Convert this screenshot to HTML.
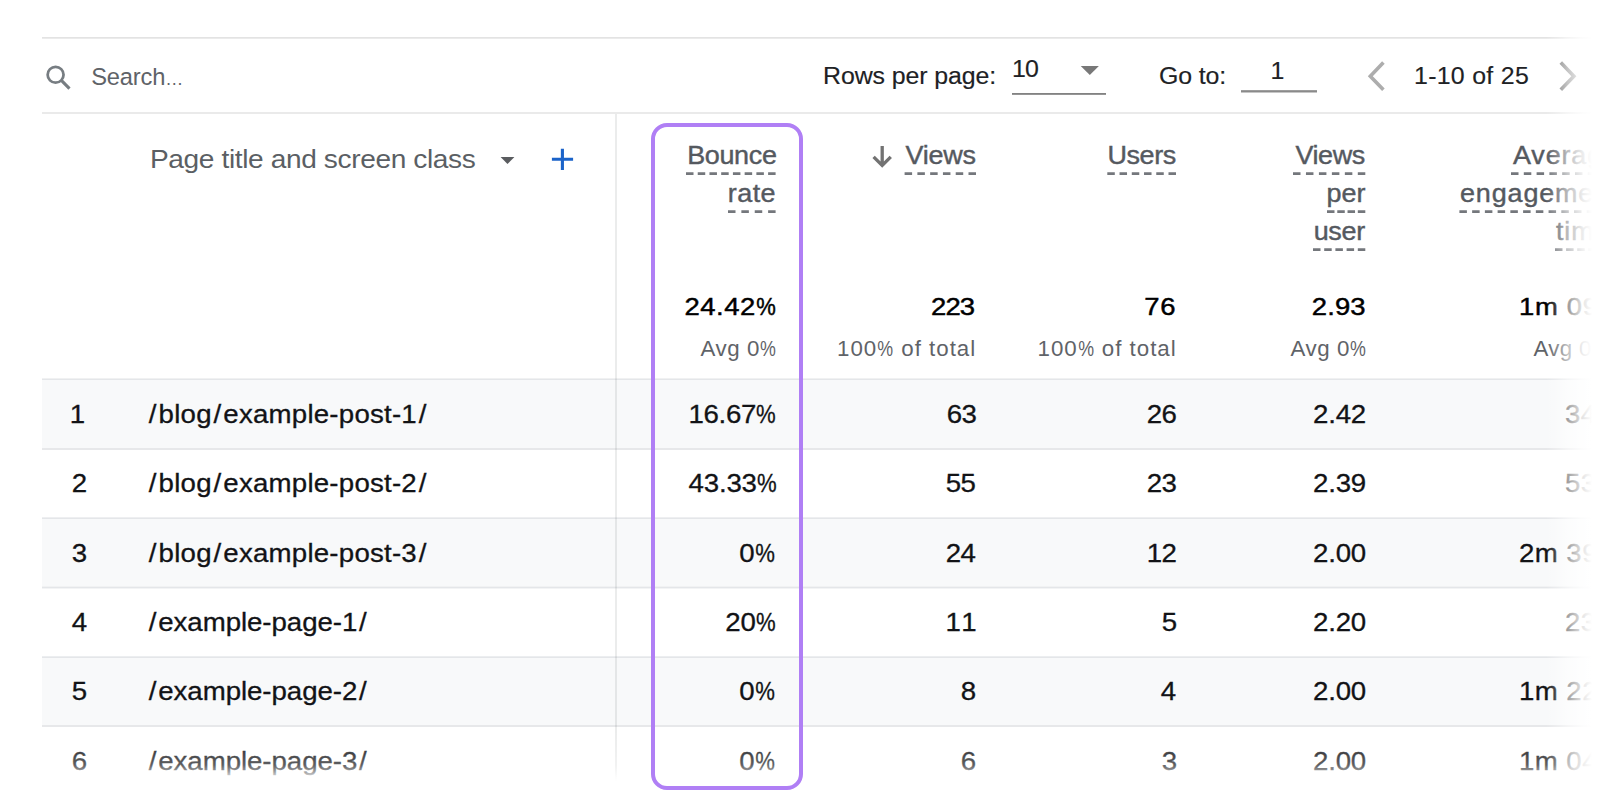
<!DOCTYPE html>
<html lang="en">
<head>
<meta charset="utf-8">
<title>Pages and screens</title>
<style>
html,body{margin:0;padding:0;background:#fff;}
body{width:1600px;height:799px;position:relative;overflow:hidden;font-family:"Liberation Sans",Arial,sans-serif;color:#202124;}
.abs{position:absolute;}
.hl{position:absolute;left:42px;right:0;height:2px;background:#e7e8ea;}
.row{position:absolute;left:42px;right:0;background:#f8f9fa;}
.t{position:absolute;white-space:nowrap;line-height:1;}
.b{font-size:25.6px;color:#121316;-webkit-text-stroke:0.3px #121316;}
.tb{font-size:23.5px;color:#202124;-webkit-text-stroke:0.15px #202124;}
.g{font-size:23.7px;color:#5f6368;}
.dh{font-size:26px;color:#5b5f64;}
.h{font-size:25.2px;color:#55595f;-webkit-text-stroke:0.4px #55595f;}
.tt{font-size:24.3px;color:#000;-webkit-text-stroke:0.45px #000;}
.s{font-size:22.3px;color:#5f6368;}
.sl{margin:0 1.7px}
.el{font-size:18px}
.pc{display:inline-block;transform:scaleX(.8);transform-origin:right center;margin-left:-.18em}
</style>
</head>
<body>
<!-- horizontal rules -->
<div class="hl" style="top:37px;background:linear-gradient(180deg,#e3e3e3 0,#e3e3e3 50%,#ebebeb 50%)"></div>
<div class="hl" style="top:112px;background:#eaeaea"></div>

<!-- striped rows -->
<div class="row" style="top:380px;height:68px"></div>
<div class="row" style="top:519px;height:68px"></div>
<div class="row" style="top:658px;height:68px"></div>
<div class="hl" style="top:378px;background:linear-gradient(180deg,#f0f1f2 0,#f0f1f2 50%,#e4e6e9 50%)"></div>
<div class="hl" style="top:448px"></div>
<div class="hl" style="top:517px;background:linear-gradient(180deg,#eeeff1 0,#eeeff1 50%,#e4e6e9 50%)"></div>
<div class="hl" style="top:586px;height:3px;background:linear-gradient(180deg,#f1f2f3 0,#f1f2f3 33%,#e4e6e9 33%,#e4e6e9 67%,#f3f4f5 67%)"></div>
<div class="hl" style="top:656px;background:linear-gradient(180deg,#eceef0 0,#eceef0 50%,#e4e6e9 50%)"></div>
<div class="hl" style="top:725px"></div>
<!-- vertical separator -->
<div class="abs" style="left:615px;top:114px;width:2px;height:685px;background:rgba(60,64,67,0.1)"></div>

<!-- search icon -->
<svg class="abs" style="left:44px;top:64px" width="30" height="30" viewBox="0 0 30 30"><circle cx="11.6" cy="10.75" r="7.95" fill="none" stroke="#777d82" stroke-width="2.75"/><path d="M17.1 16.2 L25.5 24.6" stroke="#777d82" stroke-width="3.1"/></svg>

<!-- pagination controls -->
<div class="abs" style="left:1012px;top:93px;width:94px;height:2px;background:linear-gradient(180deg,#828282 0,#828282 50%,#959595 50%)"></div>
<svg class="abs" style="left:1080px;top:66px" width="20" height="10" viewBox="0 0 20 10"><path d="M0.75 0 L18.9 0 L9.8 8.9 Z" fill="#787878"/></svg>
<div class="abs" style="left:1241px;top:90px;width:76px;height:3px;background:linear-gradient(180deg,#9d9d9d 0,#9d9d9d 33%,#8a8a8a 33%,#8a8a8a 67%,#c6c6c6 67%)"></div>
<svg class="abs" style="left:1366px;top:58px" width="22" height="36" viewBox="0 0 22 36"><path d="M17.4 4.6 L4.3 18.2 L17.4 31.8" fill="none" stroke="#adadad" stroke-width="3.6"/></svg>
<svg class="abs" style="left:1556px;top:58px" width="22" height="36" viewBox="0 0 22 36"><path d="M4.8 4.6 L17.9 18.2 L4.8 31.8" fill="none" stroke="#707070" stroke-width="3.6"/></svg>

<!-- dimension header icons -->
<svg class="abs" style="left:499px;top:156px" width="17" height="9" viewBox="0 0 17 9"><path d="M1.6 1 L15.4 1 L8.5 8 Z" fill="#5a5c5f"/></svg>
<svg class="abs" style="left:550px;top:147px" width="25" height="25" viewBox="0 0 25 25"><path d="M12.4 1.75 V22.9 M1.9 12.3 H23.1" stroke="#1b63c9" stroke-width="3.1" fill="none"/></svg>
<!-- sort arrow -->
<svg class="abs" style="left:871px;top:145px" width="23" height="25" viewBox="0 0 23 25"><path d="M11.2 1 V20 M2.6 11.9 L11.2 20.5 L19.8 11.9" fill="none" stroke="#727272" stroke-width="3.3" stroke-linejoin="miter"/></svg>

<!-- dashed underlines -->
<svg class="abs" style="left:0;top:0" width="1600" height="260" viewBox="0 0 1600 260"><g fill="none" stroke="#74777c" stroke-width="2.6">
<path d="M686 173.6 H775.6" stroke-dasharray="7.5 4.23"/>
<path d="M728 211.6 H775.6" stroke-dasharray="7.5 5.87"/>
<path d="M904.6 173.6 H976" stroke-dasharray="7.5 5.28"/>
<path d="M1107.3 173.6 H1176" stroke-dasharray="7.5 4.74"/>
<path d="M1293 173.6 H1365.3" stroke-dasharray="7.5 5.46"/>
<path d="M1327 211.6 H1365.3" stroke-dasharray="7.5 2.77"/>
<path d="M1313 249.6 H1365.3" stroke-dasharray="7.5 3.70"/>
<path d="M1511 173.6 H1608.1" stroke-dasharray="7.5 5.3"/>
<path d="M1459.4 211.6 H1607" stroke-dasharray="7.5 5.24"/>
<path d="M1555 249.6 H1607" stroke-dasharray="7.5 3.62"/>
</g></svg>

<div id="search" class="t g" style="left:91.20px;top:65.64px;letter-spacing:-0.17px;transform:scaleX(1.0);transform-origin:left center">Search<span class="el">…</span></div>
<div id="rpp" class="t tb" style="left:822.50px;top:64.71px;letter-spacing:-0.09px;transform:scaleX(1.06);transform-origin:left center">Rows per page:</div>
<div id="ten" class="t tb" style="left:1011.50px;top:58.11px;letter-spacing:-0.89px;transform:scaleX(1.06);transform-origin:left center">10</div>
<div id="goto" class="t tb" style="left:1159.00px;top:64.61px;letter-spacing:-0.13px;transform:scaleX(1.06);transform-origin:left center">Go to:</div>
<div id="one" class="t tb" style="left:1257.80px;width:40px;text-align:center;top:59.81px;letter-spacing:1.00px;transform:scaleX(1.06);transform-origin:center center">1</div>
<div id="range" class="t tb" style="left:1414.00px;top:64.71px;letter-spacing:0.27px;transform:scaleX(1.06);transform-origin:left center">1-10 of 25</div>
<div id="dim" class="t dh" style="left:149.50px;top:146.49px;letter-spacing:-0.35px;transform:scaleX(1.08);transform-origin:left center">Page title and screen class</div>
<div id="h_b1" class="t h" style="right:823.70px;top:143.07px;letter-spacing:-0.31px;transform:scaleX(1.07);transform-origin:right center">Bounce</div>
<div id="h_b2" class="t h" style="right:823.70px;top:181.07px;letter-spacing:0.38px;transform:scaleX(1.07);transform-origin:right center">rate</div>
<div id="h_v" class="t h" style="right:624.50px;top:143.07px;letter-spacing:-0.17px;transform:scaleX(1.07);transform-origin:right center">Views</div>
<div id="h_u" class="t h" style="right:424.50px;top:143.07px;letter-spacing:-0.40px;transform:scaleX(1.07);transform-origin:right center">Users</div>
<div id="h_p1" class="t h" style="right:235.00px;top:143.07px;letter-spacing:-0.40px;transform:scaleX(1.07);transform-origin:right center">Views</div>
<div id="h_p2" class="t h" style="right:234.00px;top:181.07px;letter-spacing:0.07px;transform:scaleX(1.07);transform-origin:right center">per</div>
<div id="h_p3" class="t h" style="right:235.00px;top:219.07px;letter-spacing:-0.25px;transform:scaleX(1.07);transform-origin:right center">user</div>
<div id="h_a1" class="t h" style="left:1513.00px;top:143.07px;letter-spacing:0.80px;transform:scaleX(1.07);transform-origin:left center">Average</div>
<div id="h_a2" class="t h" style="left:1460.00px;top:181.07px;letter-spacing:0.80px;transform:scaleX(1.07);transform-origin:left center">engagement</div>
<div id="h_a3" class="t h" style="left:1556.00px;top:219.07px;letter-spacing:0.80px;transform:scaleX(1.07);transform-origin:left center">time</div>
<div id="t_b" class="t tt" style="right:824.50px;top:294.73px;letter-spacing:0.47px;transform:scaleX(1.13);transform-origin:right center">24.42<span class="pc">%</span></div>
<div id="t_v" class="t tt" style="right:625.70px;top:294.73px;letter-spacing:-0.77px;transform:scaleX(1.13);transform-origin:right center">223</div>
<div id="t_u" class="t tt" style="right:424.00px;top:294.73px;letter-spacing:0.60px;transform:scaleX(1.13);transform-origin:right center">76</div>
<div id="t_p" class="t tt" style="right:234.50px;top:294.73px;letter-spacing:0.12px;transform:scaleX(1.13);transform-origin:right center">2.93</div>
<div id="t_a" class="t tt" style="left:1518.50px;top:294.73px;letter-spacing:0.60px;transform:scaleX(1.13);transform-origin:left center">1m 09s</div>
<div id="s_b" class="t s" style="right:823.50px;top:338.12px;letter-spacing:0.60px;transform:scaleX(1.0);transform-origin:right center">Avg 0<span class="pc">%</span></div>
<div id="s_v" class="t s" style="right:623.80px;top:337.92px;letter-spacing:1.00px;transform:scaleX(1.0);transform-origin:right center">100<span class="pc">%</span> of total</div>
<div id="s_u" class="t s" style="right:423.30px;top:337.92px;letter-spacing:1.00px;transform:scaleX(1.0);transform-origin:right center">100<span class="pc">%</span> of total</div>
<div id="s_p" class="t s" style="right:233.50px;top:338.12px;letter-spacing:0.60px;transform:scaleX(1.0);transform-origin:right center">Avg 0<span class="pc">%</span></div>
<div id="s_a" class="t s" style="left:1533.50px;top:337.92px;letter-spacing:0.30px;transform:scaleX(1.0);transform-origin:left center">Avg 0<span class="pc">%</span></div>
<div id="r0n" class="t b" style="left:58.30px;width:40px;text-align:center;top:402.13px;letter-spacing:1.00px;transform:scaleX(1.08);transform-origin:center center">1</div>
<div id="r0p" class="t b" style="left:146.50px;top:402.13px;letter-spacing:0.21px;transform:scaleX(1.08);transform-origin:left center"><span class="sl">/</span>blog<span class="sl">/</span>example-post-1<span class="sl">/</span></div>
<div id="r0b" class="t b" style="right:825.00px;top:402.13px;letter-spacing:-0.34px;transform:scaleX(1.08);transform-origin:right center">16.67<span class="pc">%</span></div>
<div id="r0v" class="t b" style="right:624.00px;top:402.13px;letter-spacing:-0.52px;transform:scaleX(1.08);transform-origin:right center">63</div>
<div id="r0u" class="t b" style="right:423.70px;top:402.13px;letter-spacing:-0.52px;transform:scaleX(1.08);transform-origin:right center">26</div>
<div id="r0pu" class="t b" style="right:234.40px;top:402.13px;letter-spacing:-0.21px;transform:scaleX(1.08);transform-origin:right center">2.42</div>
<div id="r0t" class="t b" style="left:1564.50px;top:402.13px;letter-spacing:0.40px;transform:scaleX(1.08);transform-origin:left center">34s</div>
<div id="r1n" class="t b" style="left:60.20px;width:40px;text-align:center;top:470.63px;letter-spacing:1.00px;transform:scaleX(1.08);transform-origin:center center">2</div>
<div id="r1p" class="t b" style="left:146.50px;top:470.63px;letter-spacing:0.21px;transform:scaleX(1.08);transform-origin:left center"><span class="sl">/</span>blog<span class="sl">/</span>example-post-2<span class="sl">/</span></div>
<div id="r1b" class="t b" style="right:824.00px;top:470.63px;letter-spacing:-0.16px;transform:scaleX(1.08);transform-origin:right center">43.33<span class="pc">%</span></div>
<div id="r1v" class="t b" style="right:625.00px;top:470.63px;letter-spacing:-0.52px;transform:scaleX(1.08);transform-origin:right center">55</div>
<div id="r1u" class="t b" style="right:423.70px;top:470.63px;letter-spacing:-0.52px;transform:scaleX(1.08);transform-origin:right center">23</div>
<div id="r1pu" class="t b" style="right:234.40px;top:470.63px;letter-spacing:-0.21px;transform:scaleX(1.08);transform-origin:right center">2.39</div>
<div id="r1t" class="t b" style="left:1565.00px;top:470.63px;letter-spacing:0.40px;transform:scaleX(1.08);transform-origin:left center">53s</div>
<div id="r2n" class="t b" style="left:60.20px;width:40px;text-align:center;top:541.03px;letter-spacing:1.00px;transform:scaleX(1.08);transform-origin:center center">3</div>
<div id="r2p" class="t b" style="left:146.50px;top:541.03px;letter-spacing:0.21px;transform:scaleX(1.08);transform-origin:left center"><span class="sl">/</span>blog<span class="sl">/</span>example-post-3<span class="sl">/</span></div>
<div id="r2b" class="t b" style="right:825.00px;top:541.03px;letter-spacing:0.40px;transform:scaleX(1.08);transform-origin:right center">0<span class="pc">%</span></div>
<div id="r2v" class="t b" style="right:625.00px;top:541.03px;letter-spacing:-0.52px;transform:scaleX(1.08);transform-origin:right center">24</div>
<div id="r2u" class="t b" style="right:423.70px;top:541.03px;letter-spacing:-0.52px;transform:scaleX(1.08);transform-origin:right center">12</div>
<div id="r2pu" class="t b" style="right:234.40px;top:541.03px;letter-spacing:-0.21px;transform:scaleX(1.08);transform-origin:right center">2.00</div>
<div id="r2t" class="t b" style="left:1518.70px;top:541.03px;letter-spacing:0.40px;transform:scaleX(1.08);transform-origin:left center">2m 39s</div>
<div id="r3n" class="t b" style="left:60.20px;width:40px;text-align:center;top:610.43px;letter-spacing:1.00px;transform:scaleX(1.08);transform-origin:center center">4</div>
<div id="r3p" class="t b" style="left:146.50px;top:610.43px;letter-spacing:-0.05px;transform:scaleX(1.08);transform-origin:left center"><span class="sl">/</span>example-page-1<span class="sl">/</span></div>
<div id="r3b" class="t b" style="right:825.00px;top:610.43px;letter-spacing:-0.06px;transform:scaleX(1.08);transform-origin:right center">20<span class="pc">%</span></div>
<div id="r3v" class="t b" style="right:621.00px;top:610.43px;letter-spacing:2.26px;transform:scaleX(1.08);transform-origin:right center">11</div>
<div id="r3u" class="t b" style="right:422.70px;top:610.43px;letter-spacing:0.40px;transform:scaleX(1.08);transform-origin:right center">5</div>
<div id="r3pu" class="t b" style="right:234.40px;top:610.43px;letter-spacing:-0.21px;transform:scaleX(1.08);transform-origin:right center">2.20</div>
<div id="r3t" class="t b" style="left:1565.00px;top:610.43px;letter-spacing:0.40px;transform:scaleX(1.08);transform-origin:left center">23s</div>
<div id="r4n" class="t b" style="left:60.20px;width:40px;text-align:center;top:678.73px;letter-spacing:1.00px;transform:scaleX(1.08);transform-origin:center center">5</div>
<div id="r4p" class="t b" style="left:146.50px;top:678.73px;letter-spacing:-0.05px;transform:scaleX(1.08);transform-origin:left center"><span class="sl">/</span>example-page-2<span class="sl">/</span></div>
<div id="r4b" class="t b" style="right:825.00px;top:678.73px;letter-spacing:0.40px;transform:scaleX(1.08);transform-origin:right center">0<span class="pc">%</span></div>
<div id="r4v" class="t b" style="right:623.00px;top:678.73px;letter-spacing:0.40px;transform:scaleX(1.08);transform-origin:right center">8</div>
<div id="r4u" class="t b" style="right:423.70px;top:678.73px;letter-spacing:0.40px;transform:scaleX(1.08);transform-origin:right center">4</div>
<div id="r4pu" class="t b" style="right:234.40px;top:678.73px;letter-spacing:-0.21px;transform:scaleX(1.08);transform-origin:right center">2.00</div>
<div id="r4t" class="t b" style="left:1519.00px;top:678.73px;letter-spacing:0.40px;transform:scaleX(1.08);transform-origin:left center">1m 22s</div>
<div id="r5n" class="t b" style="left:60.20px;width:40px;text-align:center;top:749.33px;letter-spacing:1.00px;transform:scaleX(1.08);transform-origin:center center">6</div>
<div id="r5p" class="t b" style="left:146.50px;top:749.33px;letter-spacing:-0.05px;transform:scaleX(1.08);transform-origin:left center"><span class="sl">/</span>example-page-3<span class="sl">/</span></div>
<div id="r5b" class="t b" style="right:825.00px;top:749.33px;letter-spacing:0.40px;transform:scaleX(1.08);transform-origin:right center">0<span class="pc">%</span></div>
<div id="r5v" class="t b" style="right:623.00px;top:749.33px;letter-spacing:0.40px;transform:scaleX(1.08);transform-origin:right center">6</div>
<div id="r5u" class="t b" style="right:422.70px;top:749.33px;letter-spacing:0.40px;transform:scaleX(1.08);transform-origin:right center">3</div>
<div id="r5pu" class="t b" style="right:234.40px;top:749.33px;letter-spacing:-0.21px;transform:scaleX(1.08);transform-origin:right center">2.00</div>
<div id="r5t" class="t b" style="left:1519.00px;top:749.33px;letter-spacing:0.40px;transform:scaleX(1.08);transform-origin:left center">1m 04s</div>

<!-- fades -->
<div class="abs fade" style="left:0;right:0;top:730px;height:69px;background:linear-gradient(180deg,rgba(255,255,255,0) 0,rgba(255,255,255,.17) 20px,rgba(255,255,255,.32) 35px,rgba(255,255,255,.6) 42px,rgba(255,255,255,.9) 48px,rgba(255,255,255,1) 52px,#fff 100%)"></div>
<div class="abs fade" style="top:0;bottom:0;left:1540px;width:60px;background:linear-gradient(90deg,rgba(255,255,255,0) 6px,rgba(255,255,255,.25) 16px,rgba(255,255,255,.6) 28px,rgba(255,255,255,.88) 42px,rgba(255,255,255,1) 52px,#fff 100%)"></div>

<!-- highlight box -->
<div class="abs box" style="left:651px;top:123px;width:144px;height:659px;border:4px solid #b07ff5;border-radius:16px"></div>
</body>
</html>
